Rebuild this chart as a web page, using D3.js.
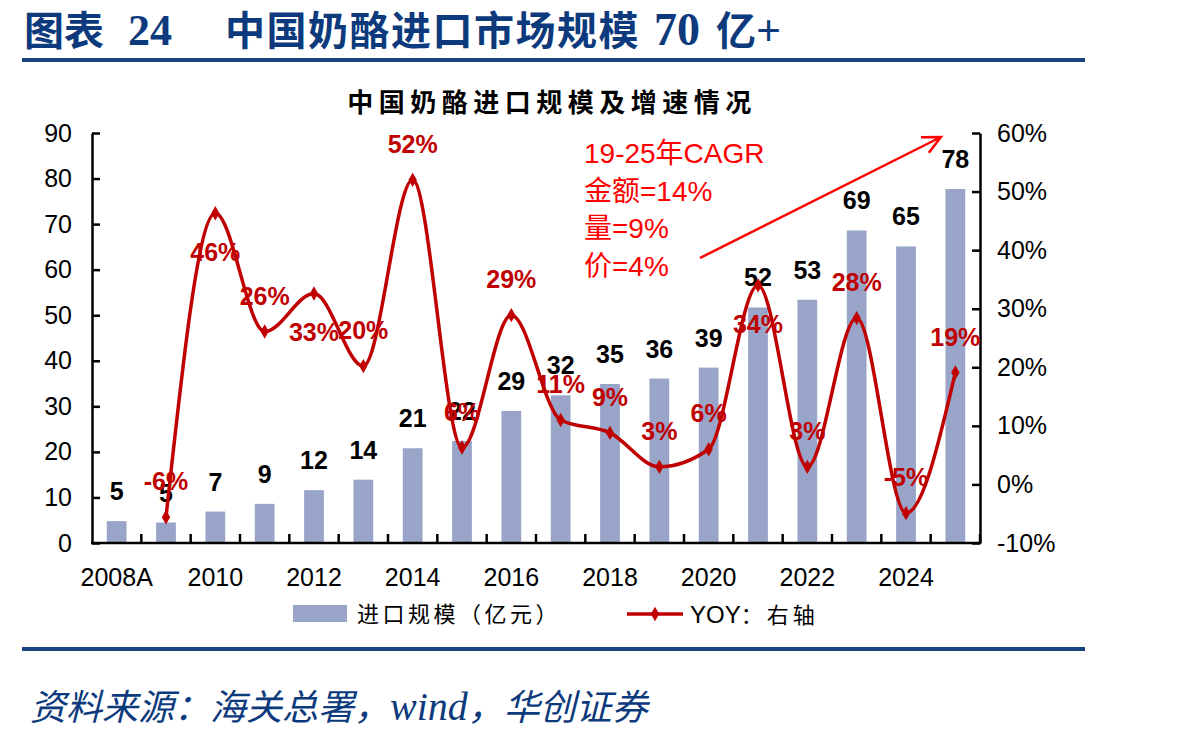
<!DOCTYPE html>
<html>
<head>
<meta charset="utf-8">
<script src="https://cdn.jsdelivr.net/npm/d3@7"></script>
<style>
body { margin: 0; background: #fff; }
text { font-family: "Liberation Sans", Arial, "Noto Sans CJK SC", sans-serif; }
</style>
</head>
<body>
<svg></svg>
<script>
var width = 1203;
var height = 740;

// data
var years = ["2008A", "2009", "2010", "2011", "2012", "2013", "2014", "2015", "2016",
             "2017", "2018", "2019", "2020", "2021", "2022", "2023", "2024", "2025"];
var importSize = [4.8, 4.5, 6.9, 8.6, 11.6, 13.9, 20.8, 22.4, 29.0,
                  32.4, 34.9, 36.1, 38.5, 51.7, 53.4, 68.6, 65.1, 77.7];
var yoy = [null, -5.6, 46.3, 26.1, 32.6, 20.2, 52, 6.3, 28.9,
           11, 8.8, 3, 6, 34, 3, 28.4, -4.9, 19.1];
var leftTicks = [0, 10, 20, 30, 40, 50, 60, 70, 80, 90];
var rightTicks = [-10, 0, 10, 20, 30, 40, 50, 60];
var cagrLines = ["19-25年CAGR", "金额=14%", "量=9%", "价=4%"];
var yoyBelow = ["2010", "2012", "2021"];   // labels sitting under the marker

var barColor = "#98a5c9";
var lineColor = "#c00000";
var navy = "#0c3a7c";

var plot = {left: 92, right: 980, top: 133, bottom: 543};

var svg = d3.select("svg")
    .attr("width", width)
    .attr("height", height);

// header
var head = svg.append("g").attr("fill", navy).attr("font-weight", "bold");
head.append("text").attr("x", 24).attr("y", 45)
    .style("font-family", "'Noto Sans CJK SC'").style("font-size", "40px").text("图表");
head.append("text").attr("x", 128).attr("y", 45)
    .style("font-family", "'Liberation Serif'").style("font-size", "44px").text("24");
head.append("text").attr("x", 225).attr("y", 45)
    .style("font-family", "'Noto Sans CJK SC'").style("font-size", "40px")
    .style("letter-spacing", "1.5px").text("中国奶酪进口市场规模");
head.append("text").attr("x", 654).attr("y", 45)
    .style("font-family", "'Liberation Serif'").style("font-size", "46px").text("70");
head.append("text").attr("x", 716).attr("y", 45)
    .style("font-family", "'Noto Sans CJK SC'").style("font-size", "40px").text("亿")
    .append("tspan")
    .style("font-family", "'Liberation Serif'").style("font-size", "44px").text("+");

svg.append("rect").attr("x", 22).attr("y", 58).attr("width", 1063).attr("height", 4).attr("fill", "#17447f");
svg.append("rect").attr("x", 22).attr("y", 647).attr("width", 1063).attr("height", 4).attr("fill", "#17447f");

svg.append("text")
    .attr("x", 30).attr("y", 720)
    .attr("fill", navy)
    .style("font-family", "'Noto Sans CJK SC'")
    .style("font-style", "italic")
    .style("font-size", "36px")
    .text("资料来源：海关总署，")
    .append("tspan")
    .style("font-family", "'Liberation Serif'")
    .style("font-size", "40px")
    .text("wind")
    .append("tspan")
    .style("font-family", "'Noto Sans CJK SC'")
    .style("font-size", "36px")
    .text("，华创证券");

// chart title
svg.append("text")
    .attr("x", 552).attr("y", 112)
    .attr("text-anchor", "middle")
    .attr("font-weight", "bold")
    .style("font-family", "'Noto Sans CJK SC'")
    .style("font-size", "26px")
    .style("letter-spacing", "5.5px")
    .text("中国奶酪进口规模及增速情况");

// scales
var x = d3.scaleBand()
    .domain(years)
    .range([plot.left, plot.right])
    .paddingInner(0.6)
    .paddingOuter(0.3);
var y = d3.scaleLinear().domain([0, 90]).range([plot.bottom, plot.top]);
var y2 = d3.scaleLinear().domain([-10, 60]).range([plot.bottom, plot.top]);
var cx = function(d) { return x(d) + x.bandwidth() / 2; };

var rows = years.map(function(d, i) { return {year: d, size: importSize[i], yoy: yoy[i]}; });

// bars
svg.append("g").selectAll("rect")
    .data(rows)
    .enter().append("rect")
    .attr("x", function(d) { return x(d.year); })
    .attr("width", x.bandwidth())
    .attr("y", function(d) { return y(d.size); })
    .attr("height", function(d) { return y(0) - y(d.size); })
    .attr("fill", barColor);

// axes
var gl = svg.append("g").attr("transform", "translate(" + plot.left + ",0)")
    .call(d3.axisLeft(y).tickValues(leftTicks).tickSizeInner(-8).tickSizeOuter(0).tickPadding(20));
var gr = svg.append("g").attr("transform", "translate(" + plot.right + ",0)")
    .call(d3.axisRight(y2).tickValues(rightTicks).tickSizeInner(-8).tickSizeOuter(0).tickPadding(17)
        .tickFormat(function(d) { return d + "%"; }));
var gb = svg.append("g").attr("transform", "translate(0," + plot.bottom + ")")
    .call(d3.axisBottom(x).tickSize(0).tickPadding(25)
        .tickFormat(function(d, i) { return i % 2 === 0 ? d : ""; }));

[gl, gr, gb].forEach(function(g) {
    g.selectAll(".domain").attr("stroke", "#000").attr("stroke-width", 2.5);
    g.selectAll(".tick line").attr("stroke", "#000").attr("stroke-width", 2.5);
    g.selectAll("text").attr("fill", "#000").style("font-size", "25px")
        .style("font-family", "'Liberation Sans', Arial, sans-serif");
});
gb.select(".domain").attr("d", "M" + (plot.left - 1) + ",0H" + (plot.right + 1));

// category boundary ticks on the x axis
gb.selectAll(".cat-tick")
    .data(years)
    .enter().append("line")
    .attr("x1", function(d) { return cx(d) + x.step() / 2; })
    .attr("x2", function(d) { return cx(d) + x.step() / 2; })
    .attr("y1", 0).attr("y2", -9)
    .attr("stroke", "#000").attr("stroke-width", 2.5);

// bar value labels
svg.append("g").selectAll("text")
    .data(rows)
    .enter().append("text")
    .attr("x", function(d) { return cx(d.year); })
    .attr("y", function(d) { return y(d.size) - 30; })
    .attr("dy", "0.36em")
    .attr("text-anchor", "middle")
    .attr("font-weight", "bold")
    .style("font-size", "25px")
    .text(function(d) { return Math.round(d.size); });

// yoy line
var line = d3.line()
    .defined(function(d) { return d.yoy != null; })
    .x(function(d) { return cx(d.year); })
    .y(function(d) { return y2(d.yoy); })
    .curve(d3.curveMonotoneX);

svg.append("path")
    .datum(rows)
    .attr("d", line)
    .attr("fill", "none")
    .attr("stroke", lineColor)
    .attr("stroke-width", 3.5);

var pts = rows.filter(function(d) { return d.yoy != null; });

svg.append("g").selectAll("path")
    .data(pts)
    .enter().append("path")
    .attr("d", d3.symbol(d3.symbolDiamond, 60))
    .attr("transform", function(d) { return "translate(" + cx(d.year) + "," + y2(d.yoy) + ")"; })
    .attr("fill", lineColor);

svg.append("g").selectAll("text")
    .data(pts)
    .enter().append("text")
    .attr("x", function(d) { return cx(d.year); })
    .attr("y", function(d) { return y2(d.yoy) + (yoyBelow.indexOf(d.year) >= 0 ? 39 : -36); })
    .attr("dy", "0.36em")
    .attr("text-anchor", "middle")
    .attr("font-weight", "bold")
    .attr("fill", lineColor)
    .style("font-size", "25px")
    .text(function(d) { return Math.round(d.yoy) + "%"; });

// CAGR note + arrow
svg.append("g").selectAll("text")
    .data(cagrLines)
    .enter().append("text")
    .attr("x", 584)
    .attr("y", function(d, i) { return 153 + i * 37.5; })
    .attr("dy", "0.36em")
    .attr("fill", "#ff0000")
    .style("font-size", "28px")
    .text(function(d) { return d; });

var a0 = [700, 258], a1 = [941, 137];
var ang = Math.atan2(a1[1] - a0[1], a1[0] - a0[0]);
var headLen = 20, spread = 0.45;
svg.append("path")
    .attr("d", "M" + a0 + "L" + a1 +
        "M" + [a1[0] - headLen * Math.cos(ang - spread), a1[1] - headLen * Math.sin(ang - spread)] +
        "L" + a1 +
        "L" + [a1[0] - headLen * Math.cos(ang + spread), a1[1] - headLen * Math.sin(ang + spread)])
    .attr("fill", "none")
    .attr("stroke", "#ff0000")
    .attr("stroke-width", 2.5);

// legend
var lg = svg.append("g");
lg.append("rect").attr("x", 293).attr("y", 605).attr("width", 54).attr("height", 17).attr("fill", barColor);
lg.append("text").attr("x", 357).attr("y", 614).attr("dy", "0.36em")
    .style("font-family", "'Noto Sans CJK SC'").style("font-size", "22px")
    .style("letter-spacing", "3.5px")
    .text("进口规模（亿元）");
lg.append("line").attr("x1", 627).attr("x2", 683).attr("y1", 614).attr("y2", 614)
    .attr("stroke", lineColor).attr("stroke-width", 3.5);
lg.append("path").attr("d", d3.symbol(d3.symbolDiamond, 60))
    .attr("transform", "translate(655,614)").attr("fill", lineColor);
lg.append("text").attr("x", 690).attr("y", 614).attr("dy", "0.36em")
    .style("font-size", "24px")
    .text("YOY")
    .append("tspan")
    .style("font-family", "'Noto Sans CJK SC'").style("font-size", "22px")
    .style("letter-spacing", "4px")
    .text("：右轴");
</script>
</body>
</html>
